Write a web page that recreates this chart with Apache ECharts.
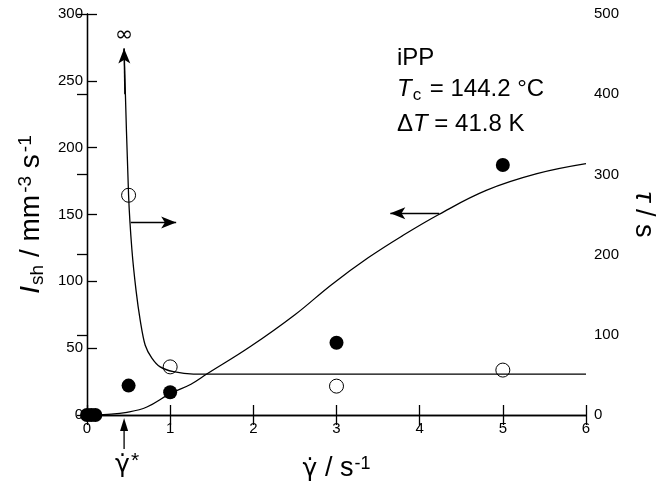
<!DOCTYPE html>
<html>
<head>
<meta charset="utf-8">
<script src="https://cdn.jsdelivr.net/npm/echarts@6/dist/echarts.min.js"></script>
<style>
html, body { margin: 0; padding: 0; background: #fff; }
#chart { width: 656px; height: 493px; }
</style>
</head>
<body>
<div id="chart"></div>
<script>
// measured points
var ratesIsh = [0, 0.05, 0.1, 0.5, 1, 3, 5];
var valuesIsh = [0, 0, 0, 22, 17, 54, 187];
var ratesTau = [0.5, 1, 3, 5];
var valuesTau = [274, 60, 36, 56];
// fitted curves
var fitIshX = [0, 0.25, 0.48, 0.72, 1.0, 1.25, 1.45, 1.96, 2.5, 2.94, 3.38, 3.79, 4.23, 4.8, 5.41, 6];
var fitIshY = [0, 0.5, 2, 6, 16, 23, 31, 51, 75, 97.5, 117.6, 134, 150, 168, 180.5, 188];
var fitTauX = [0.446, 0.5, 0.54, 0.59, 0.64, 0.7, 0.78, 0.88, 1.04, 1.28, 1.6, 6];
var fitTauY = [457, 274, 206, 155, 118, 87, 71, 60, 54, 51, 51, 51];

var FONT = 'Liberation Sans';
var GFONT = 'DejaVu Sans';

function pairs(xs, ys) {
	var out = [];
	for (var i = 0; i < xs.length; i++) out.push([xs[i], ys[i]]);
	return out;
}

var arrowLine = {
	silent: true,
	symbol: ['none', 'arrow'],
	symbolSize: [9, 15],
	lineStyle: { color: '#000', width: 1.3, type: 'solid' },
	label: { show: false },
	emphasis: { disabled: true }
};

var tickStyle = { inside: true, length: 10, lineStyle: { color: '#000', width: 1.3 } };
var labelStyle = { color: '#000', fontFamily: FONT, fontSize: 15 };

var chart = echarts.init(document.getElementById('chart'));

var option = {
	animation: false,
	grid: { left: 87, right: 70, top: 14, bottom: 78, containLabel: false, outerBoundsMode: 'none' },
	xAxis: [{
		type: 'value', min: 0, max: 6, interval: 1,
		axisLine: { lineStyle: { color: '#000', width: 1.3 } },
		axisTick: tickStyle,
		axisLabel: Object.assign({ margin: 6 }, labelStyle),
		splitLine: { show: false },
		name: '{g|\u03b3\u0307} / s{sup|-1}',
		nameLocation: 'middle', nameGap: 40,
		nameTextStyle: {
			color: '#000', fontFamily: FONT, fontSize: 27,
			rich: {
				g: { fontFamily: GFONT, fontSize: 25, color: '#000' },
				sup: { fontFamily: FONT, fontSize: 18, color: '#000', verticalAlign: 'top', padding: [0, 0, 10, 1] }
			}
		}
	}, {
		type: 'value', min: 0, max: 6, interval: 1, position: 'top',
		axisLine: { lineStyle: { color: '#000', width: 1.3 } },
		axisTick: tickStyle,
		axisLabel: { show: false },
		splitLine: { show: false }
	}],
	yAxis: [{
		type: 'value', min: 0, max: 300, interval: 50,
		axisLine: { show: true, lineStyle: { color: '#000', width: 1.3 } },
		axisTick: Object.assign({ show: true }, tickStyle),
		axisLabel: Object.assign({ margin: 4 }, labelStyle),
		splitLine: { show: false },
		name: '{i|I}{sub|sh} / mm{sup|-3} s{sup|-1}',
		nameLocation: 'middle', nameGap: 28,
		nameTextStyle: {
			color: '#000', fontFamily: FONT, fontSize: 28,
			rich: {
				i: { fontFamily: FONT, fontSize: 28, fontStyle: 'italic', color: '#000' },
				sub: { fontFamily: FONT, fontSize: 19, color: '#000', verticalAlign: 'bottom', padding: [10, 0, 0, 1] },
				sup: { fontFamily: FONT, fontSize: 19, color: '#000', verticalAlign: 'top', padding: [0, 0, 12, 2] }
			}
		}
	}, {
		type: 'value', min: 0, max: 500, interval: 100, position: 'right',
		axisLine: { show: true, lineStyle: { color: '#000', width: 1.3 } },
		axisTick: Object.assign({ show: true }, tickStyle),
		axisLabel: Object.assign({ margin: 8 }, labelStyle),
		splitLine: { show: false },
		name: '{i|\u03c4} / s',
		nameLocation: 'middle', nameGap: 41, nameRotate: -90,
		nameTextStyle: {
			color: '#000', fontFamily: FONT, fontSize: 27,
			rich: { i: { fontFamily: FONT, fontSize: 27, fontStyle: 'italic', color: '#000' } }
		}
	}],
	series: [{
		name: 'fitIsh', type: 'line', xAxisIndex: 0, yAxisIndex: 0,
		data: pairs(fitIshX, fitIshY),
		smooth: 0.4, showSymbol: false, silent: true,
		lineStyle: { color: '#000', width: 1.3 },
		markLine: Object.assign({}, arrowLine, {
			data: [[{ coord: [4.235, 151] }, { coord: [3.647, 151] }]]
		}),
		z: 3
	}, {
		name: 'fitTau', type: 'line', xAxisIndex: 0, yAxisIndex: 1,
		data: pairs(fitTauX, fitTauY),
		smooth: 0.3, showSymbol: false, silent: true,
		lineStyle: { color: '#000', width: 1.3 },
		markLine: Object.assign({}, arrowLine, {
			data: [
				[{ coord: [0.526, 240] }, { coord: [1.072, 240] }],
				[{ coord: [0.455, 400] }, { coord: [0.446, 457] }]
			]
		}),
		markPoint: {
			silent: true, symbol: 'circle', symbolSize: 1,
			itemStyle: { color: 'transparent' },
			label: { show: true, position: 'inside', formatter: '\u221e', color: '#000', fontFamily: GFONT, fontSize: 22 },
			data: [{ coord: [0.446, 474] }]
		},
		z: 3
	}, {
		name: 'Ish', type: 'scatter', xAxisIndex: 0, yAxisIndex: 0,
		data: pairs(ratesIsh, valuesIsh),
		symbol: 'circle', symbolSize: 14,
		itemStyle: { color: '#000', opacity: 1 },
		z: 4
	}, {
		name: 'tau', type: 'scatter', xAxisIndex: 0, yAxisIndex: 1,
		data: pairs(ratesTau, valuesTau),
		symbol: 'circle', symbolSize: 14,
		itemStyle: { color: 'transparent', borderColor: '#000', borderWidth: 1, opacity: 1 },
		z: 4
	}]
};

chart.setOption(option);

// annotations placed from axis coordinates
var base = chart.convertToPixel({ xAxisIndex: 0, yAxisIndex: 0 }, [0.446, 0]);
var ax = base[0], ay = base[1];

chart.setOption({
	graphic: [{
		type: 'line', silent: true,
		shape: { x1: ax, y1: ay + 34, x2: ax, y2: ay + 14 },
		style: { stroke: '#000', lineWidth: 1.3 }
	}, {
		type: 'polygon', silent: true,
		shape: { points: [[ax, ay + 3], [ax - 4, ay + 16], [ax + 4, ay + 16]] },
		style: { fill: '#000' }
	}, {
		type: 'text', silent: true, x: ax - 9, y: ay + 36,
		style: {
			text: '\u03b3\u0307{sup|*}', fill: '#000', fontFamily: GFONT, fontSize: 25,
			rich: { sup: { fontFamily: FONT, fontSize: 21, fill: '#000', verticalAlign: 'top', padding: [0, 0, 8, 1] } }
		}
	}, {
		type: 'text', silent: true, x: 397, y: 46,
		style: { text: 'iPP', fill: '#000', fontFamily: FONT, fontSize: 24 }
	}, {
		type: 'text', silent: true, x: 397, y: 75,
		style: {
			text: '{i|T}{sub|c} = 144.2 \u00b0C', fill: '#000', fontFamily: FONT, fontSize: 24,
			rich: {
				i: { fontFamily: FONT, fontSize: 24, fontStyle: 'italic', fill: '#000' },
				sub: { fontFamily: FONT, fontSize: 17, fill: '#000', verticalAlign: 'bottom', padding: [12, 2, 0, 1] }
			}
		}
	}, {
		type: 'text', silent: true, x: 397, y: 112,
		style: {
			text: '\u0394{i|T} = 41.8 K', fill: '#000', fontFamily: FONT, fontSize: 24,
			rich: { i: { fontFamily: FONT, fontSize: 24, fontStyle: 'italic', fill: '#000' } }
		}
	}]
});
</script>
</body>
</html>
